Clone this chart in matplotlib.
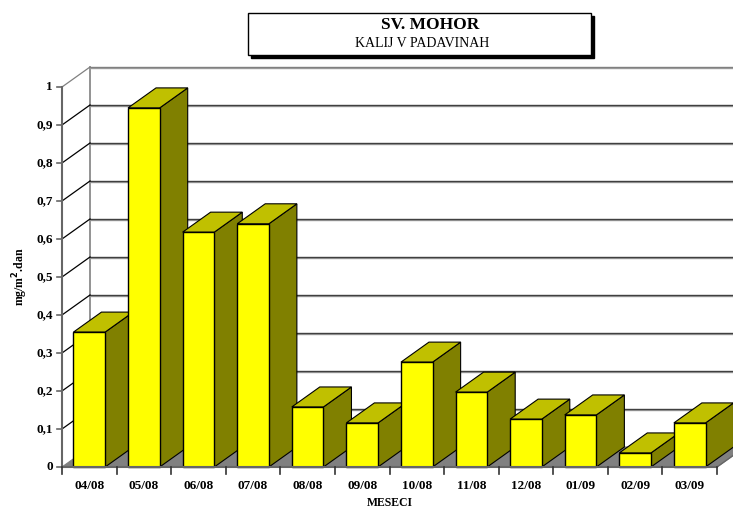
import matplotlib
matplotlib.use("Agg")
import matplotlib.pyplot as plt
from matplotlib.patches import Polygon, Rectangle

# data
months = ["04/08", "05/08", "06/08", "07/08", "08/08", "09/08",
          "10/08", "11/08", "12/08", "01/09", "02/09", "03/09"]
values = [0.355, 0.945, 0.618, 0.64, 0.158, 0.116,
          0.276, 0.197, 0.126, 0.137, 0.037, 0.116]
yticks = [0, 0.1, 0.2, 0.3, 0.4, 0.5, 0.6, 0.7, 0.8, 0.9, 1.0]
ytick_labels = ["0", "0,1", "0,2", "0,3", "0,4", "0,5", "0,6", "0,7", "0,8", "0,9", "1"]

title = "SV. MOHOR"
subtitle = "KALIJ V PADAVINAH"

plt.rcParams["font.family"] = ["Liberation Serif", "DejaVu Serif"]

W, H = 733, 511
fig = plt.figure(figsize=(W / 100, H / 100), dpi=100)
# front plane of the 3D box in pixels
x0, x1, y0, y1 = 62, 717, 467, 87
ax = fig.add_axes([x0 / W, (H - y0) / H, (x1 - x0) / W, (y0 - y1) / H])
ax.set_xlim(0, len(months))
ax.set_ylim(0, 1)
ax.axis("off")

n = len(months)
dx = 28 / ((x1 - x0) / n)     # depth offset in category units
dy = 20 / (y0 - y1)           # depth offset in value units
w = 0.58

# floor
ax.add_patch(Polygon([(0, 0), (n, 0), (n + dx, dy), (dx, dy)], closed=True,
                     facecolor="#808080", edgecolor="#808080", lw=0.8, clip_on=False, zorder=1))
# back wall + left wall lines
ax.plot([dx, dx], [dy, 1 + dy], color="#808080", lw=1.2, clip_on=False, zorder=1)
for v in yticks:
    if v == 0:
        continue
    ax.plot([dx, n + dx], [v + dy - 0.002, v + dy - 0.002], color="#a0a0a0",
            lw=1.0, clip_on=False, zorder=1)
    ax.plot([dx, n + dx], [v + dy, v + dy], color="#808080" if v == 1 else "#404040",
            lw=1.0, clip_on=False, zorder=1)
    ax.plot([0, dx], [v, v + dy], color="#808080" if v == 1 else "black",
            lw=0.9, clip_on=False, zorder=1)

# bars
for i, v in enumerate(values):
    l = i + (1 - w) / 2
    r = l + w
    front = Rectangle((l, 0), w, v, facecolor="#FFFF00", edgecolor="black", lw=1.0,
                      clip_on=False, zorder=3 + i)
    side = Polygon([(r, 0), (r + dx, dy), (r + dx, v + dy), (r, v)], closed=True,
                   facecolor="#808000", edgecolor="black", lw=0.8, clip_on=False, zorder=3 + i)
    top = Polygon([(l, v), (r, v), (r + dx, v + dy), (l + dx, v + dy)], closed=True,
                  facecolor="#C0C000", edgecolor="black", lw=0.8, clip_on=False, zorder=3 + i)
    ax.add_patch(side)
    ax.add_patch(top)
    ax.add_patch(front)

# front axes
ax.plot([0, 0], [0, 1], color="#666666", lw=1.5, clip_on=False, zorder=20)
ax.plot([0, n], [0, 0], color="#666666", lw=1.5, clip_on=False, zorder=20)
ax.plot([n, n + dx], [0, dy], color="#666666", lw=1.0, clip_on=False, zorder=20)
for v, lab in zip(yticks, ytick_labels):
    ax.plot([-0.1, 0], [v, v], color="#666666", lw=1.2, clip_on=False, zorder=20)
    ax.text(-0.17, v, lab, ha="right", va="center", fontsize=9.5, fontweight="bold")
for i in range(n + 1):
    ax.plot([i, i], [0, -0.018], color="#333333", lw=1.2, clip_on=False, zorder=20)
for i, m in enumerate(months):
    ax.text(i + 0.5, -0.05, m, ha="center", va="center", fontsize=9.5, fontweight="bold")

ax.text(0.5, -0.095, "MESECI", transform=ax.transAxes, ha="center", va="center",
        fontsize=8.5, fontweight="bold")
fig.text(20 / W, (H - 277) / H, "mg/m$^\\mathbf{2}$.dan", rotation=90, ha="center", va="center",
         fontsize=8.5, fontweight="bold")

# title box with shadow
bx, by, bw, bh = 248 / W, (H - 55) / H, (591 - 248) / W, 42 / H
fig.patches.append(Rectangle((bx + 3 / W, by - 3 / H), bw, bh, transform=fig.transFigure,
                             facecolor="black", edgecolor="black", zorder=1))
fig.patches.append(Rectangle((bx, by), bw, bh, transform=fig.transFigure,
                             facecolor="white", edgecolor="black", lw=1.0, zorder=2))
fig.text(430 / W, (H - 25) / H, title, ha="center", va="center", fontsize=12.5,
         fontweight="bold", zorder=3)
fig.text(422 / W, (H - 43) / H, subtitle, ha="center", va="center", fontsize=10, zorder=3)

fig.savefig("out.png", dpi=100)
